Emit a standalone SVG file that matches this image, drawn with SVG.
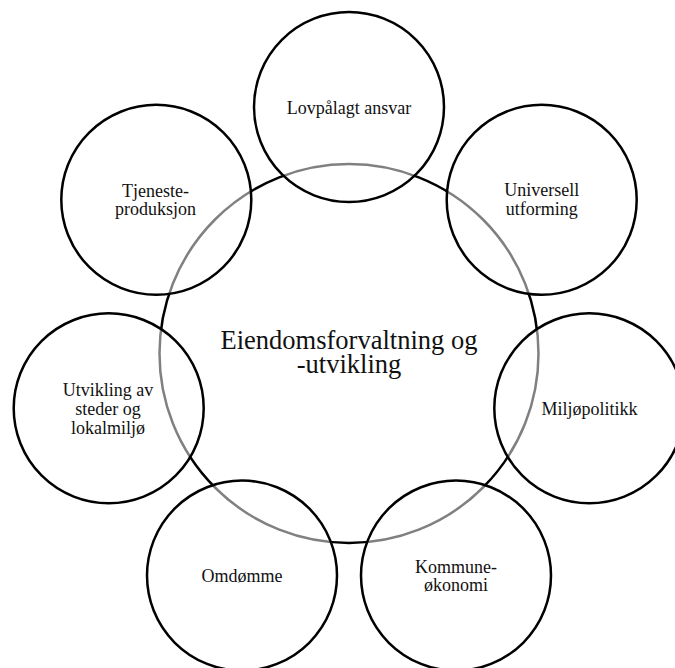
<svg xmlns="http://www.w3.org/2000/svg" width="675" height="668" viewBox="0 0 675 668">
<style>
.hub{fill:#fff;stroke:#000;stroke-width:2.5}
.sat{fill:#fff;fill-opacity:0.5;stroke:#000;stroke-width:2.5}
text{font-family:"Liberation Serif","Times New Roman",serif;fill:#111;text-anchor:middle}
.st{font-size:18px}
.ht{font-size:26.5px}
</style>
<rect width="675" height="668" fill="#fff"/>
<g id="hub">
<circle class="hub" cx="349" cy="353.5" r="189.5"/>
<text class="ht" x="349" y="348.5">Eiendomsforvaltning og</text>
<text class="ht" x="349" y="373">-utvikling</text>
</g>
<g id="connectors"></g>
<g id="lovpalagt">
<circle class="sat" cx="349" cy="107" r="95"/>
<text class="st" x="349" y="113.5">Lovpålagt ansvar</text>
</g>
<g id="universell">
<circle class="sat" cx="541.7" cy="199.8" r="95"/>
<text class="st" x="541.7" y="196">Universell</text>
<text class="st" x="541.7" y="215.3">utforming</text>
</g>
<g id="miljo">
<circle class="sat" cx="589.3" cy="408.3" r="95"/>
<text class="st" x="589.5" y="415">Miljøpolitikk</text>
</g>
<g id="kommune">
<circle class="sat" cx="456" cy="575.6" r="95"/>
<text class="st" x="456" y="573">Kommune-</text>
<text class="st" x="456" y="591.3">økonomi</text>
</g>
<g id="omdomme">
<circle class="sat" cx="242" cy="575.6" r="95"/>
<text class="st" x="242" y="582.3">Omdømme</text>
</g>
<g id="utvikling">
<circle class="sat" cx="108.7" cy="408.3" r="95"/>
<text class="st" x="108" y="396">Utvikling av</text>
<text class="st" x="108" y="415.2">steder og</text>
<text class="st" x="108" y="434.4">lokalmiljø</text>
</g>
<g id="tjeneste">
<circle class="sat" cx="156.3" cy="199.8" r="95"/>
<text class="st" x="155.5" y="196.7">Tjeneste-</text>
<text class="st" x="155.5" y="215.3">produksjon</text>
</g>
</svg>
